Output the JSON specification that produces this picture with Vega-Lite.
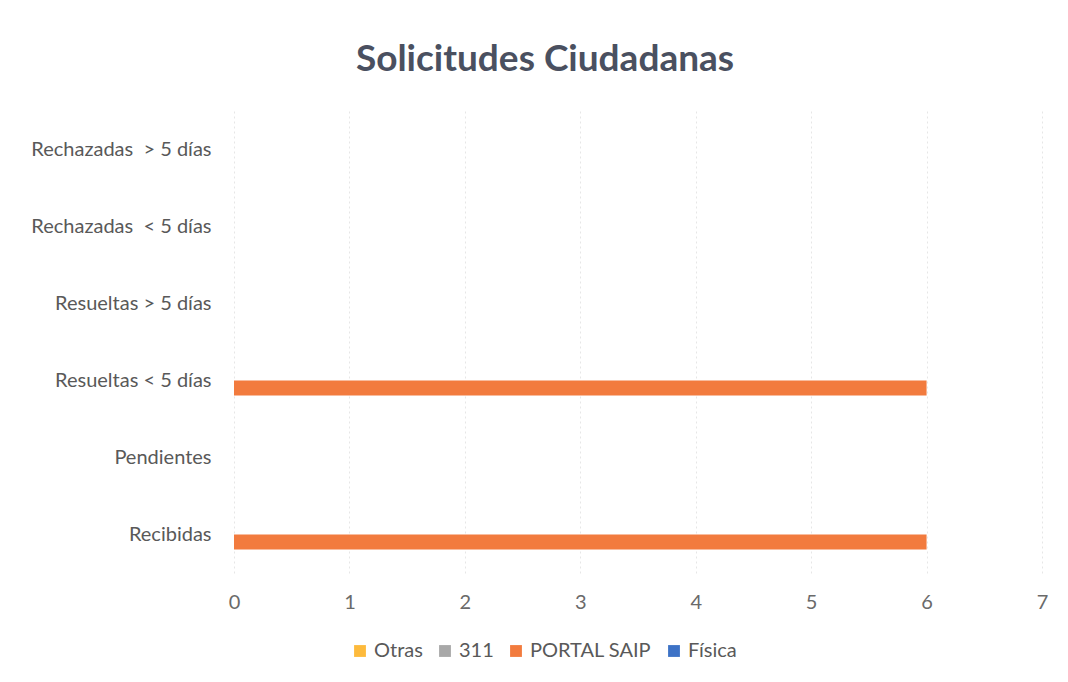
{
  "$schema": "https://vega.github.io/schema/vega-lite/v6.json",
  "width": 808,
  "height": 462,
  "autosize": {"type": "none"},
  "padding": {"left": 234, "top": 111, "right": 26, "bottom": 109},
  "background": "white",
  "title": {
    "text": "Solicitudes Ciudadanas",
    "font": "Lato",
    "fontSize": 37,
    "fontWeight": "bold",
    "color": "#4a5060",
    "anchor": "middle",
    "dx": -93,
    "offset": 32
  },
  "data": {
    "values": [
      {"categoria": "Rechazadas\u00a0\u00a0> 5 días", "medio": "Otras", "valor": 0},
      {"categoria": "Rechazadas\u00a0\u00a0> 5 días", "medio": "311", "valor": 0},
      {"categoria": "Rechazadas\u00a0\u00a0> 5 días", "medio": "PORTAL SAIP", "valor": 0},
      {"categoria": "Rechazadas\u00a0\u00a0> 5 días", "medio": "Física", "valor": 0},
      {"categoria": "Rechazadas\u00a0\u00a0< 5 días", "medio": "Otras", "valor": 0},
      {"categoria": "Rechazadas\u00a0\u00a0< 5 días", "medio": "311", "valor": 0},
      {"categoria": "Rechazadas\u00a0\u00a0< 5 días", "medio": "PORTAL SAIP", "valor": 0},
      {"categoria": "Rechazadas\u00a0\u00a0< 5 días", "medio": "Física", "valor": 0},
      {"categoria": "Resueltas > 5 días", "medio": "Otras", "valor": 0},
      {"categoria": "Resueltas > 5 días", "medio": "311", "valor": 0},
      {"categoria": "Resueltas > 5 días", "medio": "PORTAL SAIP", "valor": 0},
      {"categoria": "Resueltas > 5 días", "medio": "Física", "valor": 0},
      {"categoria": "Resueltas < 5 días", "medio": "Otras", "valor": 0},
      {"categoria": "Resueltas < 5 días", "medio": "311", "valor": 0},
      {"categoria": "Resueltas < 5 días", "medio": "PORTAL SAIP", "valor": 6},
      {"categoria": "Resueltas < 5 días", "medio": "Física", "valor": 0},
      {"categoria": "Pendientes", "medio": "Otras", "valor": 0},
      {"categoria": "Pendientes", "medio": "311", "valor": 0},
      {"categoria": "Pendientes", "medio": "PORTAL SAIP", "valor": 0},
      {"categoria": "Pendientes", "medio": "Física", "valor": 0},
      {"categoria": "Recibidas", "medio": "Otras", "valor": 0},
      {"categoria": "Recibidas", "medio": "311", "valor": 0},
      {"categoria": "Recibidas", "medio": "PORTAL SAIP", "valor": 6},
      {"categoria": "Recibidas", "medio": "Física", "valor": 0}
    ]
  },
  "mark": {"type": "bar", "opacity": 1},
  "encoding": {
    "y": {
      "field": "categoria",
      "type": "nominal",
      "sort": ["Rechazadas\u00a0\u00a0> 5 días", "Rechazadas\u00a0\u00a0< 5 días", "Resueltas > 5 días", "Resueltas < 5 días", "Pendientes", "Recibidas"],
      "scale": {"paddingInner": 0.22, "paddingOuter": 0.11},
      "axis": {
        "title": null,
        "domain": false,
        "ticks": false,
        "grid": false,
        "labelFont": "Lato",
        "labelFontSize": 20,
        "labelColor": "#595959",
        "labelPadding": 23,
        "labelLimit": 300
      }
    },
    "yOffset": {
      "field": "medio",
      "type": "nominal",
      "sort": ["Otras", "311", "PORTAL SAIP", "Física"],
      "scale": {"domain": ["Otras", "311", "PORTAL SAIP", "Física"], "paddingInner": 0, "paddingOuter": 0}
    },
    "x": {
      "field": "valor",
      "type": "quantitative",
      "scale": {"domain": [0, 7], "nice": false},
      "axis": {
        "title": null,
        "values": [0, 1, 2, 3, 4, 5, 6, 7],
        "domain": false,
        "ticks": false,
        "grid": true,
        "gridColor": "#e6e6e6",
        "gridDash": [2, 3],
        "gridWidth": 1,
        "labelFlush": false,
        "labelFont": "Lato",
        "labelFontSize": 20,
        "labelColor": "#6a6a6a",
        "labelPadding": 19
      }
    },
    "color": {
      "field": "medio",
      "type": "nominal",
      "scale": {
        "domain": ["Otras", "311", "PORTAL SAIP", "Física"],
        "range": ["#FDBA3C", "#A8A8A8", "#F27B3E", "#3D72C6"]
      },
      "legend": {
        "title": null,
        "orient": "none",
        "legendX": 116,
        "legendY": 530,
        "direction": "horizontal",
        "symbolType": "square",
        "symbolSize": 140,
        "symbolStrokeWidth": 0,
        "labelFont": "Lato",
        "labelFontSize": 20,
        "labelColor": "#595959",
        "labelOffset": 4,
        "columnPadding": 12
      }
    }
  },
  "config": {"view": {"stroke": null}}
}
